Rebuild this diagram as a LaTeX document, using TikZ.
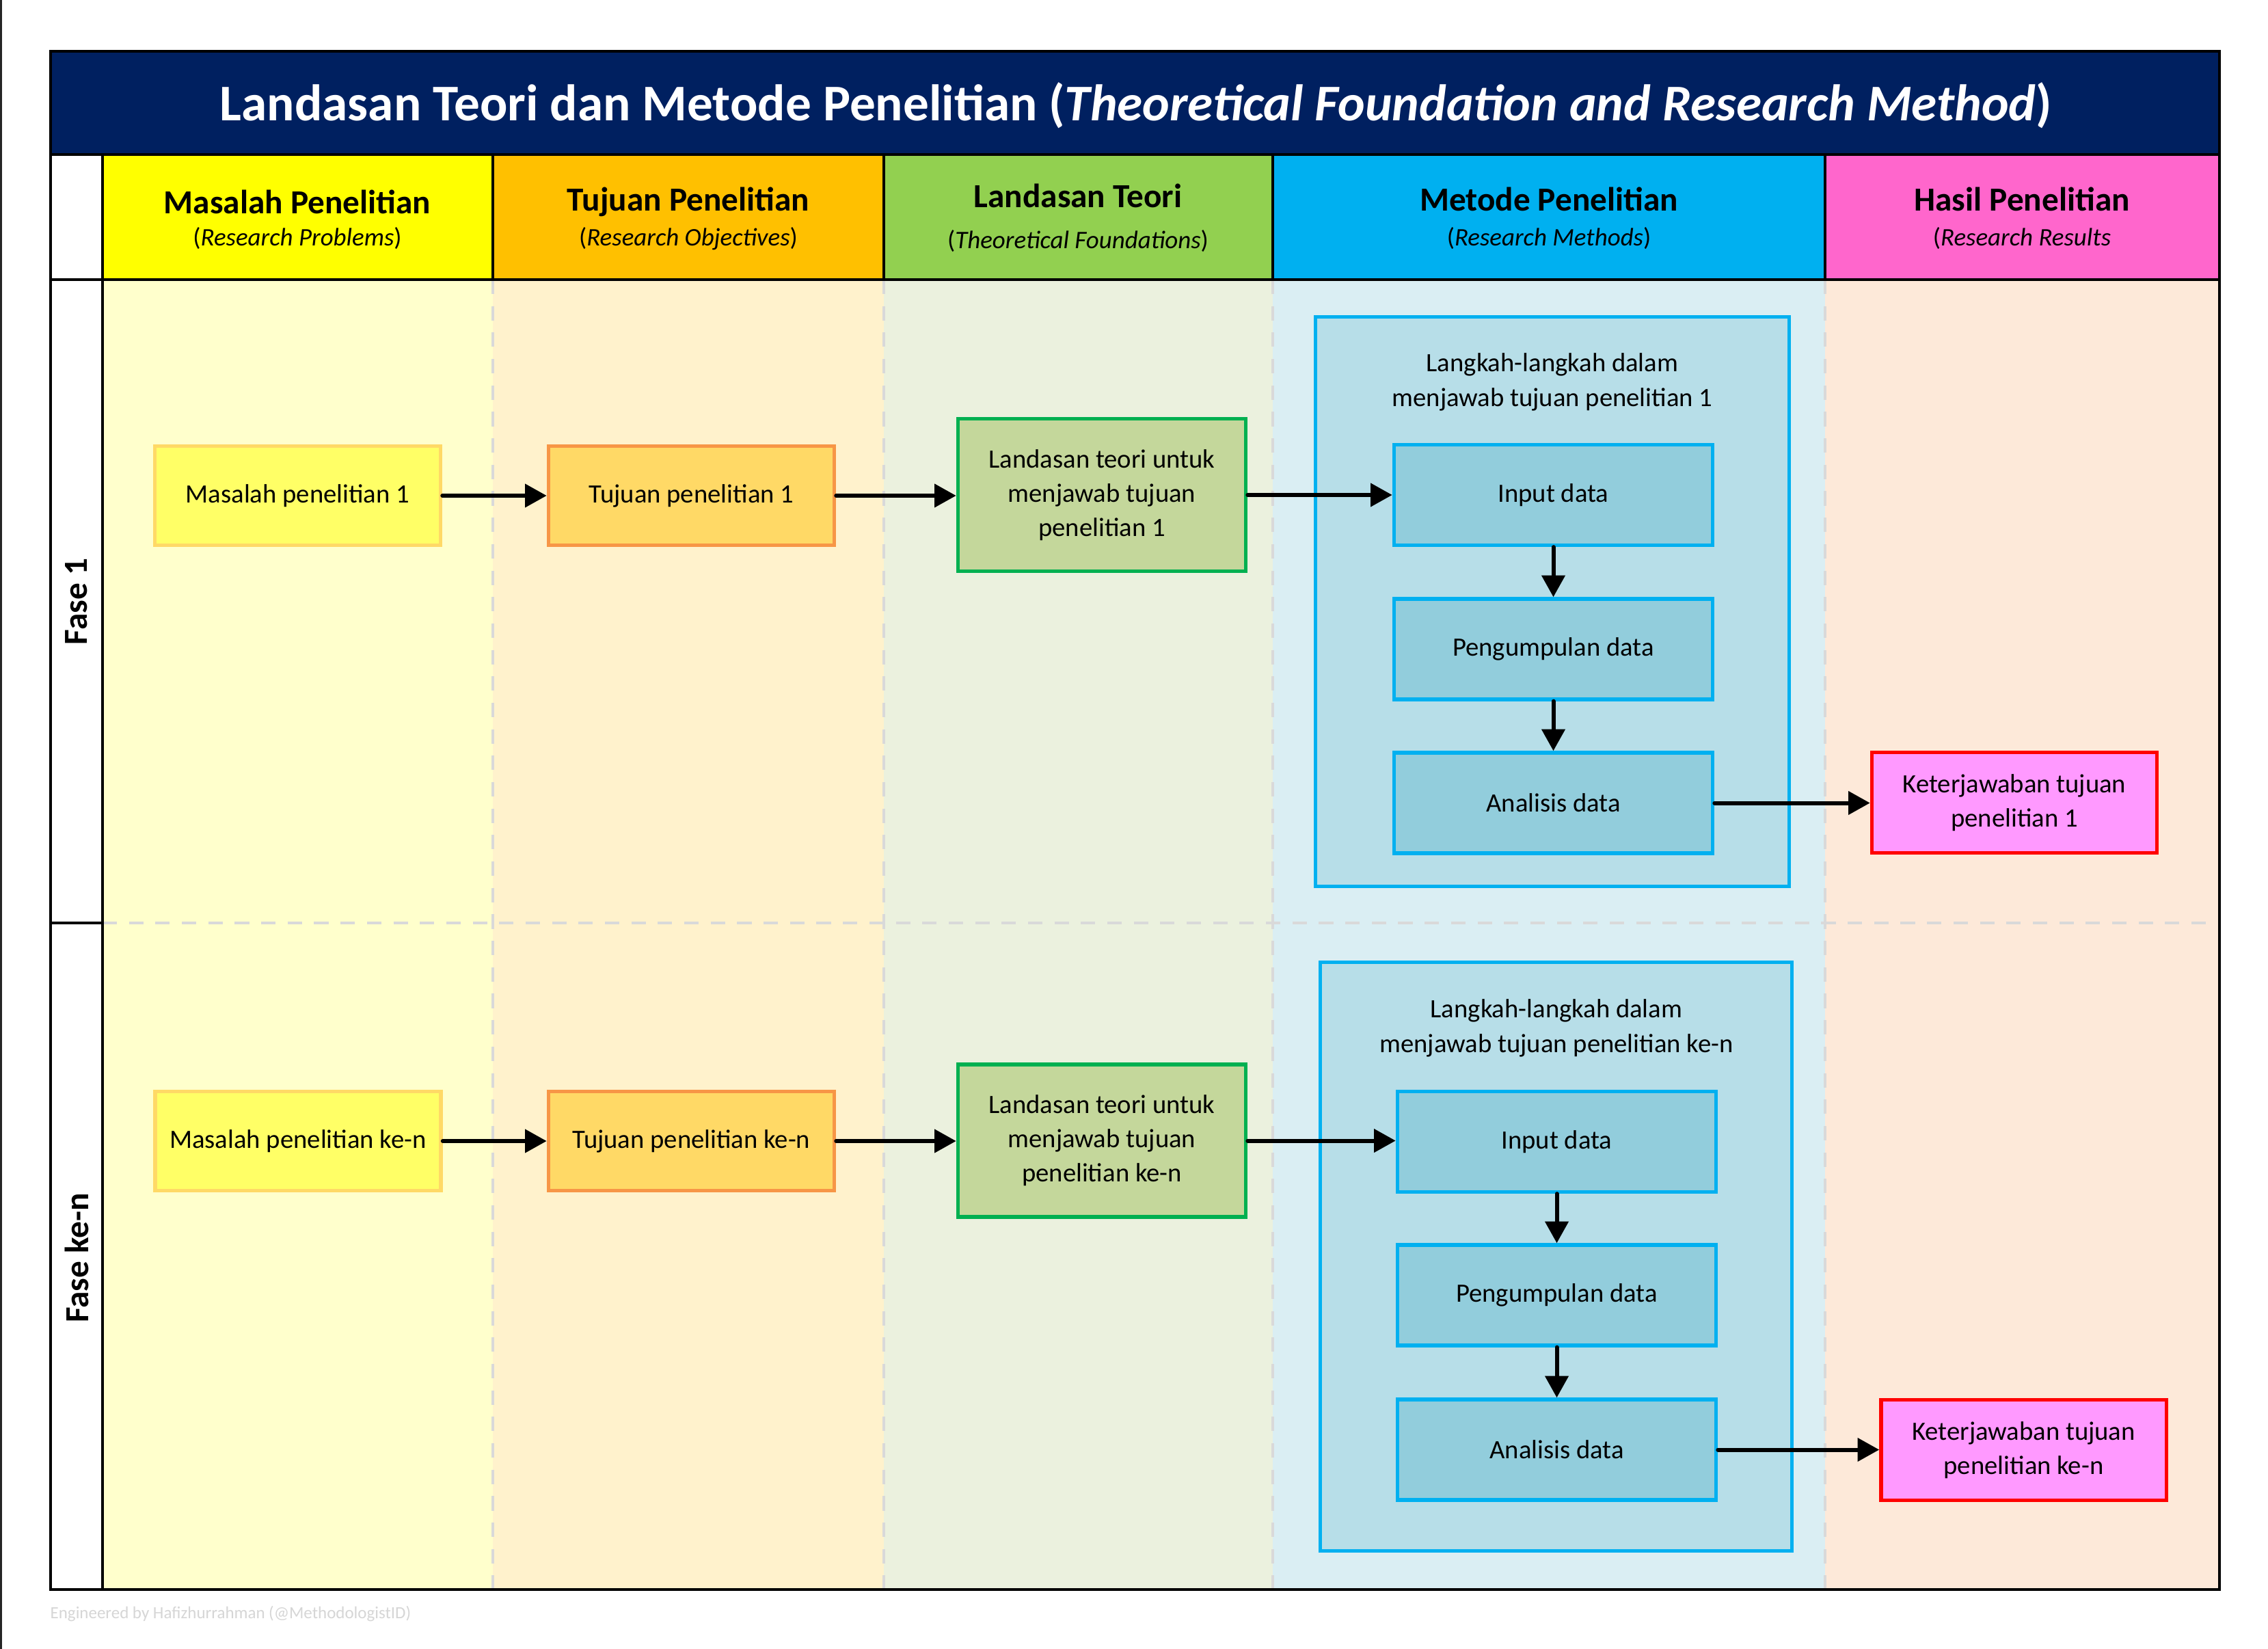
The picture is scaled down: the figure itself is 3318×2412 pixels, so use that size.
\documentclass[tikz,border=0pt]{standalone}
\usepackage{fontspec}
\setmainfont{Carlito}
\usetikzlibrary{arrows.meta}

% Office palette
\definecolor{navy}{HTML}{002060}
\definecolor{hMas}{HTML}{FFFF00}
\definecolor{hTuj}{HTML}{FFC000}
\definecolor{hLan}{HTML}{92D050}
\definecolor{hMet}{HTML}{00B0F0}
\definecolor{hHas}{HTML}{FF66CC}
\definecolor{bMas}{HTML}{FFFFCC}
\definecolor{bTuj}{HTML}{FFF2CC}
\definecolor{bLan}{HTML}{EBF1DE}
\definecolor{bMet}{HTML}{DAEEF3}
\definecolor{bHas}{HTML}{FDE9D9}
\definecolor{mFill}{HTML}{FFFF66}
\definecolor{mDraw}{HTML}{FFD966}
\definecolor{tFill}{HTML}{FFD966}
\definecolor{tDraw}{HTML}{F79646}
\definecolor{lFill}{HTML}{C4D79B}
\definecolor{lDraw}{HTML}{00B050}
\definecolor{cFill}{HTML}{B7DEE8}
\definecolor{sFill}{HTML}{92CDDC}
\definecolor{kFill}{HTML}{FF99FF}
\definecolor{kDraw}{HTML}{FF0000}
\definecolor{sepGray}{HTML}{D9D9D9}
\definecolor{footGray}{HTML}{D6D6D6}

\tikzset{
  bx/.style={draw, line width=1.5pt, inner sep=0pt, align=center, text=black,
             font=\fontsize{11}{14.2}\selectfont},
  mbox/.style={bx, fill=mFill, draw=mDraw, minimum width=4.18cm, minimum height=1.45cm},
  tbox/.style={bx, fill=tFill, draw=tDraw, minimum width=4.18cm, minimum height=1.45cm},
  lbox/.style={bx, fill=lFill, draw=lDraw, minimum width=4.21cm, minimum height=2.23cm},
  cbox/.style={bx, fill=cFill, draw=hMet},
  sbox/.style={bx, fill=sFill, draw=hMet, minimum width=4.66cm, minimum height=1.47cm},
  kbox/.style={bx, fill=kFill, draw=kDraw, minimum width=4.17cm, minimum height=1.47cm},
  arr/.style={-{Triangle[length=9pt,width=9.5pt]}, line width=1.7pt, line cap=round},
  sep/.style={draw=sepGray, line width=1pt, dash pattern=on 6pt off 5pt},
  rule/.style={draw=black, line width=1pt},
  colhead/.style={anchor=base, text=black, font=\fontsize{14}{17}\selectfont\bfseries},
  colsub/.style={anchor=base, text=black, font=\fontsize{10.5}{13}\selectfont},
  ctitle/.style={align=center, text=black, font=\fontsize{11}{14.5}\selectfont},
  phase/.style={rotate=90, text=black, font=\fontsize{14}{17}\selectfont\bfseries},
}

\begin{document}
\begin{tikzpicture}[x=0.01cm, y=-0.01cm]
  \useasboundingbox (0,0) rectangle (3318,2412);
  \fill[white] (0,0) rectangle (3318,2412);

  % page edge on the left
  \draw[black!85, line width=0.7pt] (1.5,0) -- (1.5,2412);

  % column bodies
  \fill[white] (74,226) rectangle (150,2325);
  \fill[bMas] (150,409) rectangle (721,2325);
  \fill[bTuj] (721,409) rectangle (1293,2325);
  \fill[bLan] (1293,409) rectangle (1862,2325);
  \fill[bMet] (1862,409) rectangle (2670,2325);
  \fill[bHas] (2670,409) rectangle (3247,2325);

  % column header cells
  \fill[white] (74,226) rectangle (150,409);
  \fill[hMas] (150,226) rectangle (721,409);
  \fill[hTuj] (721,226) rectangle (1293,409);
  \fill[hLan] (1293,226) rectangle (1862,409);
  \fill[hMet] (1862,226) rectangle (2670,409);
  \fill[hHas] (2670,226) rectangle (3247,409);

  % title band
  \fill[navy] (74,75) rectangle (3247,226);

  % dashed lane separators
  \foreach \xx in {721,1293,1862,2670}
    \draw[sep] (\xx,409) -- (\xx,2325);
  \draw[sep] (150,1350) -- (3247,1350);

  % table rules
  \draw[rule] (74,226) -- (3247,226);
  \draw[rule] (74,409) -- (3247,409);
  \draw[rule] (150,226) -- (150,2325);
  \draw[rule] (74,1350) -- (150,1350);
  \foreach \xx in {721,1293,1862,2670}
    \draw[rule] (\xx,226) -- (\xx,409);
  \draw[black, line width=1.2pt] (74,75) rectangle (3247,2325);

  % title
  \node[text=white, font=\fontsize{21.4}{26}\selectfont\bfseries] (title) at (1662,154)
    {Landasan Teori dan Metode Penelitian (\textit{Theoretical Foundation and Research Method})};

  % column headings
  \node[colhead] (hd1) at (435,312) {Masalah Penelitian};
  \node[colsub]  (sb1) at (435,360) {(\textit{Research Problems})};
  \node[colhead] (hd2) at (1007,308) {Tujuan Penelitian};
  \node[colsub]  (sb2) at (1007,360) {(\textit{Research Objectives})};
  \node[colhead] (hd3) at (1577,303) {Landasan Teori};
  \node[colsub]  (sb3) at (1577,363) {(\textit{Theoretical Foundations})};
  \node[colhead] (hd4) at (2266,308) {Metode Penelitian};
  \node[colsub]  (sb4) at (2266,360) {(\textit{Research Methods})};
  \node[colhead] (hd5) at (2958,308) {Hasil Penelitian};
  \node[colsub]  (sb5) at (2958,360) {(\textit{Research Results}};

  % phase labels
  \node[phase] (ph1) at (112,880) {Fase 1};
  \node[phase] (ph2) at (112,1840) {Fase ke-n};

  % ---------------- phase 1 ----------------
  \node[cbox, minimum width=6.93cm, minimum height=8.33cm] (c1) at (2271,880) {};
  \node[ctitle] (c1t) at (2271,559) {Langkah-langkah dalam\\menjawab tujuan penelitian 1};

  \node[mbox] (m1) at (435.5,725) {Masalah penelitian 1};
  \node[tbox] (t1) at (1011.5,725) {Tujuan penelitian 1};
  \node[lbox] (l1) at (1612,724) {Landasan teori untuk\\menjawab tujuan\\penelitian 1};
  \node[sbox] (i1) at (2272.5,724) {Input data};
  \node[sbox] (p1) at (2272.5,949.5) {Pengumpulan data};
  \node[sbox] (a1) at (2272.5,1174.5) {Analisis data};
  \node[kbox] (k1) at (2947,1174) {Keterjawaban tujuan\\penelitian 1};

  \draw[arr] (m1.east) -- (t1.west |- m1.east);
  \draw[arr] (t1.east) -- (l1.west |- t1.east);
  \draw[arr] (l1.east) -- (i1.west |- l1.east);
  \draw[arr] (i1.south) -- (p1.north);
  \draw[arr] (p1.south) -- (a1.north);
  \draw[arr] (a1.east) -- (k1.west |- a1.east);

  % ---------------- phase n ----------------
  \node[cbox, minimum width=6.90cm, minimum height=8.61cm] (c2) at (2276.5,1838) {};
  \node[ctitle] (c2t) at (2277,1504) {Langkah-langkah dalam\\menjawab tujuan penelitian ke-n};

  \node[mbox] (m2) at (436,1669) {Masalah penelitian ke-n};
  \node[tbox] (t2) at (1011.5,1669) {Tujuan penelitian ke-n};
  \node[lbox] (l2) at (1612,1668.5) {Landasan teori untuk\\menjawab tujuan\\penelitian ke-n};
  \node[sbox] (i2) at (2277.5,1670) {Input data};
  \node[sbox] (p2) at (2277.5,1894.5) {Pengumpulan data};
  \node[sbox] (a2) at (2277.5,2120.5) {Analisis data};
  \node[kbox] (k2) at (2960.5,2121) {Keterjawaban tujuan\\penelitian ke-n};

  \draw[arr] (m2.east) -- (t2.west |- m2.east);
  \draw[arr] (t2.east) -- (l2.west |- t2.east);
  \draw[arr] (l2.east) -- (i2.west |- l2.east);
  \draw[arr] (i2.south) -- (p2.north);
  \draw[arr] (p2.south) -- (a2.north);
  \draw[arr] (a2.east) -- (k2.west |- a2.east);

  % credit line
  \node[anchor=west, inner sep=0pt, text=footGray, font=\fontsize{7.1}{9}\selectfont] (credit)
    at (73,2360) {Engineered by Hafizhurrahman (@MethodologistID)};
\end{tikzpicture}
\end{document}
